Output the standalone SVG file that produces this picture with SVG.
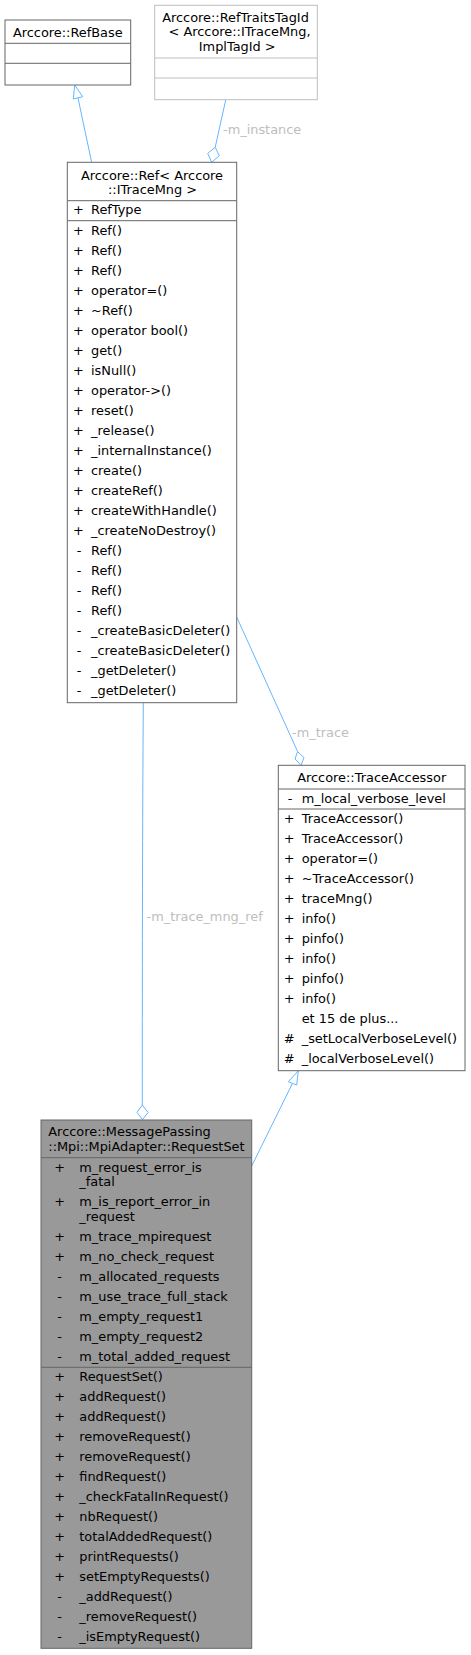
<svg xmlns="http://www.w3.org/2000/svg" width="471" height="1655" viewBox="0 0 471 1655">
<style>
text{font-family:"DejaVu Sans","Liberation Sans",sans-serif;font-size:12.9px;fill:#000}
.c{text-anchor:middle}
.box{fill:#fff;stroke:#666;stroke-width:1}
.gbox{fill:#fff;stroke:#bfbfbf;stroke-width:1}
.sel{fill:#999;stroke:#666;stroke-width:1}
.sep{stroke:#666;stroke-width:1}
.gsep{stroke:#bfbfbf;stroke-width:1}
.edge{fill:none;stroke:#63b8ff;stroke-width:1}
.head{fill:#fff;stroke:#63b8ff;stroke-width:1}
.lbl{fill:#bebebe}
</style>
<rect width="471" height="1655" fill="#fff"/>
<g id="connectors">
<path class="edge" d="M91.7,162.5 L78,98"/>
<polygon class="head" points="74.7,85 73.3,99 82.7,96.7"/>
<path class="edge" d="M225.7,100 L215.2,147.3"/>
<polygon class="head" points="215.2,147.3 219.3,155.6 211.7,162.3 207.7,153.3"/>
<text class="lbl" x="223" y="134.3">-m_instance</text>
<path class="edge" d="M236.7,617 L297.6,751.6"/>
<polygon class="head" points="297.6,751.6 304,757.6 301,765.3 295,759"/>
<text class="lbl" x="292" y="736.5">-m_trace</text>
<path class="edge" d="M143.3,703 C142.5,820 142.3,950 142.3,1105"/>
<polygon class="head" points="142.3,1105 148,1112.5 142.5,1119.6 137,1112.3"/>
<text class="lbl" x="146.5" y="920.5">-m_trace_mng_ref</text>
<path class="edge" d="M251.7,1166 L292.5,1083.3"/>
<polygon class="head" points="298.3,1070.8 288.3,1081.7 296.7,1085"/>
</g>
<g id="RefBase">
<rect class="box" x="5" y="20" width="125.7" height="65"/>
<line class="sep" x1="5" y1="43.3" x2="130.7" y2="43.3"/>
<line class="sep" x1="5" y1="63.3" x2="130.7" y2="63.3"/>
<text class="c" x="67.8" y="36.7">Arccore::RefBase</text>
</g>
<g id="RefTraitsTagId">
<rect class="gbox" x="154.7" y="5.3" width="162.6" height="94.4"/>
<line class="gsep" x1="154.7" y1="58" x2="317.3" y2="58"/>
<line class="gsep" x1="154.7" y1="78" x2="317.3" y2="78"/>
<text class="c" x="235.5" y="21.5">Arccore::RefTraitsTagId</text>
<text class="c" x="239.5" y="36">&lt; Arccore::ITraceMng,</text>
<text class="c" x="237.2" y="50.5">ImplTagId &gt;</text>
</g>
<g id="Ref">
<rect class="box" x="67.3" y="162.3" width="169.4" height="540.4"/>
<line class="sep" x1="67.3" y1="200.7" x2="236.7" y2="200.7"/>
<line class="sep" x1="67.3" y1="220.7" x2="236.7" y2="220.7"/>
<text class="c" x="152" y="180">Arccore::Ref&lt; Arccore</text>
<text class="c" x="152.5" y="194.3">::ITraceMng &gt;</text>
<g class="c">
<text x="78.5" y="214.3">+</text>
<text x="78.5" y="234.5">+</text><text x="78.5" y="254.5">+</text><text x="78.5" y="274.5">+</text><text x="78.5" y="294.5">+</text><text x="78.5" y="314.5">+</text><text x="78.5" y="334.5">+</text><text x="78.5" y="354.5">+</text><text x="78.5" y="374.5">+</text><text x="78.5" y="394.5">+</text><text x="78.5" y="414.5">+</text><text x="78.5" y="434.5">+</text><text x="78.5" y="454.5">+</text><text x="78.5" y="474.5">+</text><text x="78.5" y="494.5">+</text><text x="78.5" y="514.5">+</text><text x="78.5" y="534.5">+</text>
<text x="79" y="554.5">-</text><text x="79" y="574.5">-</text><text x="79" y="594.5">-</text><text x="79" y="614.5">-</text><text x="79" y="634.5">-</text><text x="79" y="654.5">-</text><text x="79" y="674.5">-</text><text x="79" y="694.5">-</text>
</g>
<text x="91" y="214.3">RefType</text>
<text x="91" y="234.5">Ref()</text>
<text x="91" y="254.5">Ref()</text>
<text x="91" y="274.5">Ref()</text>
<text x="91" y="294.5">operator=()</text>
<text x="91" y="314.5">~Ref()</text>
<text x="91" y="334.5">operator bool()</text>
<text x="91" y="354.5">get()</text>
<text x="91" y="374.5">isNull()</text>
<text x="91" y="394.5">operator-&gt;()</text>
<text x="91" y="414.5">reset()</text>
<text x="91" y="434.5">_release()</text>
<text x="91" y="454.5">_internalInstance()</text>
<text x="91" y="474.5">create()</text>
<text x="91" y="494.5">createRef()</text>
<text x="91" y="514.5">createWithHandle()</text>
<text x="91" y="534.5">_createNoDestroy()</text>
<text x="91" y="554.5">Ref()</text>
<text x="91" y="574.5">Ref()</text>
<text x="91" y="594.5">Ref()</text>
<text x="91" y="614.5">Ref()</text>
<text x="91" y="634.5">_createBasicDeleter()</text>
<text x="91" y="654.5">_createBasicDeleter()</text>
<text x="91" y="674.5">_getDeleter()</text>
<text x="91" y="694.5">_getDeleter()</text>
</g>
<g id="TraceAccessor">
<rect class="box" x="278.3" y="765.3" width="186.7" height="305.4"/>
<line class="sep" x1="278.3" y1="789" x2="465" y2="789"/>
<line class="sep" x1="278.3" y1="809" x2="465" y2="809"/>
<text class="c" x="371.7" y="782">Arccore::TraceAccessor</text>
<g class="c">
<text x="290" y="802.5">-</text>
<text x="289.2" y="823">+</text><text x="289.2" y="843">+</text><text x="289.2" y="863">+</text><text x="289.2" y="883">+</text><text x="289.2" y="903">+</text><text x="289.2" y="923">+</text><text x="289.2" y="943">+</text><text x="289.2" y="963">+</text><text x="289.2" y="983">+</text><text x="289.2" y="1003">+</text>
<text x="289.2" y="1043">#</text><text x="289.2" y="1063">#</text>
</g>
<text x="301.7" y="802.5">m_local_verbose_level</text>
<text x="301.7" y="823">TraceAccessor()</text>
<text x="301.7" y="843">TraceAccessor()</text>
<text x="301.7" y="863">operator=()</text>
<text x="301.7" y="883">~TraceAccessor()</text>
<text x="301.7" y="903">traceMng()</text>
<text x="301.7" y="923">info()</text>
<text x="301.7" y="943">pinfo()</text>
<text x="301.7" y="963">info()</text>
<text x="301.7" y="983">pinfo()</text>
<text x="301.7" y="1003">info()</text>
<text x="301.7" y="1023">et 15 de plus...</text>
<text x="301.7" y="1043">_setLocalVerboseLevel()</text>
<text x="301.7" y="1063">_localVerboseLevel()</text>
</g>
<g id="RequestSet">
<rect class="sel" x="41" y="1120" width="210.7" height="528.3"/>
<line class="sep" x1="41" y1="1157.7" x2="251.7" y2="1157.7"/>
<line class="sep" x1="41" y1="1367.3" x2="251.7" y2="1367.3"/>
<text x="48.3" y="1136.3">Arccore::MessagePassing</text>
<text x="48.3" y="1150.7">::Mpi::MpiAdapter::RequestSet</text>
<g class="c">
<text x="59.7" y="1171.7">+</text><text x="59.7" y="1206">+</text><text x="59.7" y="1240.7">+</text><text x="59.7" y="1260.7">+</text>
<text x="59.7" y="1280.7">-</text><text x="59.7" y="1300.7">-</text><text x="59.7" y="1320.7">-</text><text x="59.7" y="1340.7">-</text><text x="59.7" y="1360.7">-</text>
<text x="59.7" y="1381">+</text><text x="59.7" y="1401">+</text><text x="59.7" y="1421">+</text><text x="59.7" y="1441">+</text><text x="59.7" y="1461">+</text><text x="59.7" y="1481">+</text><text x="59.7" y="1501">+</text><text x="59.7" y="1521">+</text><text x="59.7" y="1541">+</text><text x="59.7" y="1561">+</text><text x="59.7" y="1581">+</text>
<text x="59.7" y="1601">-</text><text x="59.7" y="1621">-</text><text x="59.7" y="1641">-</text>
</g>
<text x="79.3" y="1171.7">m_request_error_is</text>
<text x="79.3" y="1186">_fatal</text>
<text x="79.3" y="1206">m_is_report_error_in</text>
<text x="79.3" y="1220.5">_request</text>
<text x="79.3" y="1240.7">m_trace_mpirequest</text>
<text x="79.3" y="1260.7">m_no_check_request</text>
<text x="79.3" y="1280.7">m_allocated_requests</text>
<text x="79.3" y="1300.7">m_use_trace_full_stack</text>
<text x="79.3" y="1320.7">m_empty_request1</text>
<text x="79.3" y="1340.7">m_empty_request2</text>
<text x="79.3" y="1360.7">m_total_added_request</text>
<text x="79.3" y="1381">RequestSet()</text>
<text x="79.3" y="1401">addRequest()</text>
<text x="79.3" y="1421">addRequest()</text>
<text x="79.3" y="1441">removeRequest()</text>
<text x="79.3" y="1461">removeRequest()</text>
<text x="79.3" y="1481">findRequest()</text>
<text x="79.3" y="1501">_checkFatalInRequest()</text>
<text x="79.3" y="1521">nbRequest()</text>
<text x="79.3" y="1541">totalAddedRequest()</text>
<text x="79.3" y="1561">printRequests()</text>
<text x="79.3" y="1581">setEmptyRequests()</text>
<text x="79.3" y="1601">_addRequest()</text>
<text x="79.3" y="1621">_removeRequest()</text>
<text x="79.3" y="1641">_isEmptyRequest()</text>
</g>
</svg>
